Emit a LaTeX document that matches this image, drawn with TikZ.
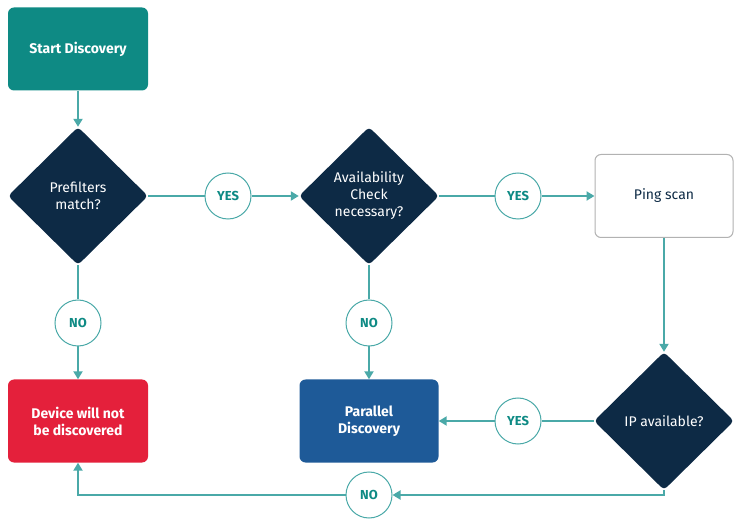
\documentclass[tikz,border=0pt]{standalone}
\usepackage{fontspec}
\setmainfont{Fira Sans}
\usetikzlibrary{shapes.geometric,arrows.meta}
\definecolor{teal1}{HTML}{0E8A84}
\definecolor{navy}{HTML}{0D2A45}
\definecolor{lineC}{HTML}{4AA9A8}
\definecolor{blueB}{HTML}{1E5A98}
\definecolor{redB}{HTML}{E4203B}
\begin{document}
\begin{tikzpicture}[x=1pt,y=-1pt,
  box/.style={rectangle,rounded corners=6pt,minimum width=140pt,minimum height=83pt,text=white,font=\fontsize{14}{17}\selectfont\bfseries,align=center},
  dia/.style={diamond,fill=navy,minimum width=140pt,minimum height=138pt,inner sep=0pt,rounded corners=4pt,text=white,font=\fontsize{14}{17}\selectfont,align=center},
  lab/.style={circle,draw=lineC,line width=1pt,fill=white,minimum size=46pt,inner sep=0pt,text=teal1,font=\fontsize{13}{15}\selectfont\bfseries},
  arr/.style={draw=lineC,line width=2pt,-{Triangle[length=8pt,width=9pt]}},
  ln/.style={draw=lineC,line width=2pt}]
\useasboundingbox (0,0) rectangle (742,529);
\node[box,fill=teal1] (start) at (78,49) {Start Discovery};
\node[dia] (d1) at (78,196) {Prefilters\\match?};
\node[lab] (y1) at (228,196) {YES};
\node[dia] (d2) at (369,196) {Availability\\Check\\necessary?};
\node[lab] (y2) at (518,196) {YES};
\node[box,fill=white,draw=gray!60,line width=1pt,text=navy,font=\fontsize{14}{17}\selectfont,minimum width=138pt] (ping) at (664,196) {Ping scan};
\node[dia] (d3) at (664,421) {IP available?};
\node[lab] (y3) at (518,421) {YES};
\node[box,fill=blueB,minimum width=139pt] (par) at (369,421) {Parallel\\Discovery};
\node[lab] (n2) at (369,323) {NO};
\node[lab] (n1) at (78,323) {NO};
\node[box,fill=redB] (dev) at (78,421) {Device will not\\be discovered};
\node[lab] (n3) at (369,495) {NO};
\draw[arr] (start) -- (d1);
\draw[ln] (d1) -- (y1); \draw[arr] (y1) -- (d2);
\draw[ln] (d2) -- (y2); \draw[arr] (y2) -- (ping);
\draw[arr] (ping) -- (d3);
\draw[ln] (d3) -- (y3); \draw[arr] (y3) -- (par);
\draw[ln] (d2) -- (n2); \draw[arr] (n2) -- (par);
\draw[ln] (d1) -- (n1); \draw[arr] (n1) -- (dev);
\draw[arr] (d3.south) |- (n3.east);
\draw[arr] (n3.west) -| (dev.south);
\end{tikzpicture}
\end{document}
